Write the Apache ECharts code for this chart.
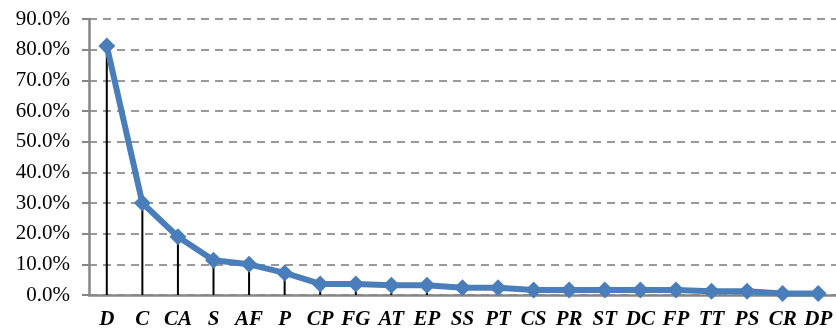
<!DOCTYPE html>
<html>
<head>
<meta charset="utf-8">
<script src="https://cdn.jsdelivr.net/npm/echarts@6/dist/echarts.min.js"></script>
<style>
	html, body { margin: 0; padding: 0; background: #fff; }
	#chart { width: 836px; height: 334px; }
</style>
</head>
<body>
<div id="chart"></div>
<script>
// categories and percentages
const categories = ['D', 'C', 'CA', 'S', 'AF', 'P', 'CP', 'FG', 'AT', 'EP', 'SS', 'PT', 'CS', 'PR', 'ST', 'DC', 'FP', 'TT', 'PS', 'CR', 'DP']
const values = [81.2, 30.0, 19.0, 11.3, 10.0, 7.2, 3.6, 3.6, 3.2, 3.2, 2.4, 2.4, 1.6, 1.6, 1.6, 1.6, 1.6, 1.2, 1.2, 0.5, 0.5]
const yTicks = { min: 0, max: 90, interval: 10 }

const blue = '#4a7ebb'
const grey = '#868686'

let chart = echarts.init(document.getElementById('chart'))
chart.setOption({
	animation: false,
	grid: { left: 89, right: 0, top: 19, bottom: 39 },
	xAxis: {
		type: 'category',
		data: categories,
		boundaryGap: true,
		axisLine: { lineStyle: { color: grey, width: 2.5 } },
		axisTick: { show: false },
		axisLabel: {
			interval: 0,
			margin: 14,
			color: '#000',
			fontFamily: 'Liberation Serif',
			fontStyle: 'italic',
			fontWeight: 'bold',
			fontSize: 21,
		},
	},
	yAxis: {
		type: 'value',
		min: yTicks.min,
		max: yTicks.max,
		interval: yTicks.interval,
		axisLine: { show: true, lineStyle: { color: grey, width: 2.5 } },
		axisTick: { show: true, length: 7, lineStyle: { color: grey, width: 2 } },
		splitLine: { lineStyle: { color: '#999', width: 2, type: [8, 6] } },
		axisLabel: {
			margin: 19,
			color: '#000',
			fontFamily: 'Liberation Serif',
			fontSize: 21,
			formatter: v => v.toFixed(1) + '%',
		},
	},
	series: [{
		// drop lines from each point to the axis
		type: 'bar',
		data: values,
		barWidth: 2,
		itemStyle: { color: '#000' },
		z: 2,
	}, {
		type: 'line',
		data: values,
		symbol: 'diamond',
		symbolSize: 17,
		lineStyle: { color: blue, width: 6 },
		itemStyle: { color: blue },
		z: 3,
	}],
})
</script>
</body>
</html>
